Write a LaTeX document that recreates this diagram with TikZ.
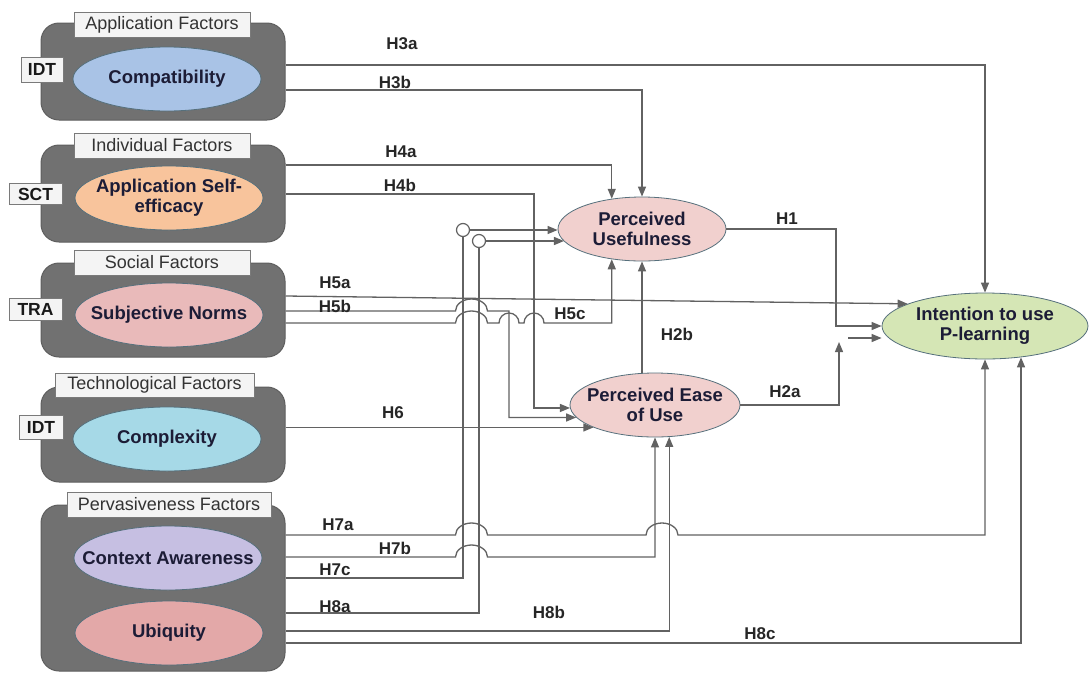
\documentclass[tikz,border=0pt]{standalone}
\usepackage{fontspec}
\setmainfont{Liberation Sans}
\usetikzlibrary{arrows.meta,shapes.geometric}

\definecolor{boxgray}{HTML}{717171}
\definecolor{grpline}{HTML}{5E5E5E}
\definecolor{ttlfill}{HTML}{F4F4F4}
\definecolor{ttlline}{HTML}{7A7A7A}
\definecolor{elline}{HTML}{56707C}
\definecolor{ink}{HTML}{1C1C36}
\definecolor{lnkgray}{HTML}{626262}
\definecolor{cmpblue}{HTML}{A9C3E6}
\definecolor{aseorange}{HTML}{F8C49C}
\definecolor{sbnpink}{HTML}{E9BABA}
\definecolor{cpxcyan}{HTML}{A6D9E7}
\definecolor{ctxlilac}{HTML}{C6BFE2}
\definecolor{ubqrose}{HTML}{E3A8A8}
\definecolor{perpink}{HTML}{F1D0CE}
\definecolor{itugreen}{HTML}{D5E6B5}

\begin{document}
\begin{tikzpicture}[x=1pt,y=-1pt,
  grp/.style={draw=grpline, fill=boxgray, rounded corners=18pt, line width=1pt, inner sep=0pt},
  ttl/.style={draw=ttlline, fill=ttlfill, inner sep=0pt, text=black!80, font=\fontsize{18}{20}\selectfont},
  thy/.style={draw=ttlline, fill=ttlfill, inner sep=0pt, text=black!90, font=\bfseries\fontsize{17.5}{20}\selectfont},
  fac/.style={ellipse, draw=elline, line width=0.8pt, minimum height=64pt, inner xsep=-25pt, inner ysep=0pt, align=center, text=ink, font=\bfseries\fontsize{18.5}{20}\selectfont},
  hyp/.style={text=black!85, font=\bfseries\fontsize{17}{19}\selectfont},
  lnk/.style={draw=lnkgray, line width=1.3pt},
  arr/.style={lnk, -{Triangle[length=10pt,width=8pt]}},
  dot/.style={circle, draw=lnkgray, fill=white, line width=1.2pt, minimum size=13pt, inner sep=0pt},
  bighop/.style={insert path={arc[start angle=180, end angle=0, x radius=16pt, y radius=12pt]}},
  smallhop/.style={insert path={arc[start angle=180, end angle=0, x radius=10pt, y radius=10pt]}},
]
\fill[white] (0,0) rectangle (1089,675);
\useasboundingbox (0,0) rectangle (1089,675);
% factor groups
\node[grp, minimum width=244pt, minimum height=97pt] (appbox) at (163,71.5) {};
\node[grp, minimum width=244pt, minimum height=97pt] (indbox) at (163,193.5) {};
\node[grp, minimum width=244pt, minimum height=94pt] (socbox) at (163,310) {};
\node[grp, minimum width=244pt, minimum height=95pt] (tecbox) at (163,434.5) {};
\node[grp, minimum width=244pt, minimum height=166pt] (pvbox) at (163,588) {};
% group titles
\node[ttl, minimum width=176pt, minimum height=25pt] (appttl) at (162,24.5) {Application Factors};
\node[ttl, minimum width=176pt, minimum height=25pt] (indttl) at (162,145.5) {Individual Factors};
\node[ttl, minimum width=176pt, minimum height=25pt] (socttl) at (162,262.5) {Social Factors};
\node[ttl, minimum width=199pt, minimum height=24pt] (tecttl) at (154.5,385) {Technological Factors};
\node[ttl, minimum width=204pt, minimum height=25pt] (pvttl) at (169,504.5) {Pervasiveness Factors};
% theories
\node[thy, minimum width=42pt, minimum height=25pt] (idt1) at (42,69.5) {IDT};
\node[thy, minimum width=53pt, minimum height=21pt] (sct) at (35.5,194) {SCT};
\node[thy, minimum width=53pt, minimum height=22pt] (tra) at (35.5,309) {TRA};
\node[thy, minimum width=44pt, minimum height=24pt] (idt2) at (41,427) {IDT};
% factors
\node[fac, fill=cmpblue, minimum width=188pt] (cmp) at (167,79) {Compatibility};
\node[fac, fill=aseorange, minimum width=188pt] (ase) at (169,198) {Application Self-\\efficacy};
\node[fac, fill=sbnpink, minimum width=188pt] (sbn) at (169,315) {Subjective Norms};
\node[fac, fill=cpxcyan, minimum width=188pt] (cpx) at (167,439) {Complexity};
\node[fac, fill=ctxlilac, minimum width=188pt] (ctx) at (168,558) {Context Awareness};
\node[fac, fill=ubqrose, minimum width=188pt] (ubq) at (169,633) {Ubiquity};
% constructs
\node[fac, fill=perpink, minimum width=168pt] (pu) at (642,229) {Perceived\\Usefulness};
\node[fac, fill=perpink, minimum width=170pt] (peu) at (655,405) {Perceived Ease\\of Use};
\node[fac, fill=itugreen, minimum width=206pt, minimum height=66pt] (itu) at (985,326) {Intention to use\\P-learning};
% junction circles
\node[dot] (c1) at (463,230) {};
\node[dot] (c2) at (479,241) {};
\coordinate (h2aup) at (839,342);
\coordinate (h2ain) at (848,338);
% application links
\draw[arr] (appbox.east |- 0,65) -| (itu.north);
\draw[arr] (appbox.east |- 0,90) -| (pu.north);
% individual links
\draw[arr] (indbox.east |- 0,165) -| (pu.135);
\draw[arr] (indbox.east |- 0,194) -- (534,194) |- (peu.182);
% social links
\draw[arr] (socbox.east |- 0,296) -- (itu.164);
\draw[arr] (socbox.east |- 0,311) -- (455.5,311) [bighop] -- (509,311) |- (peu.189);
\draw[arr] (socbox.east |- 0,323) -- (455.5,323) [bighop] -- (499,323) [smallhop] -- (524,323) [smallhop] -| (pu.225);
% technological link
\draw[arr] (tecbox.east |- peu.200) -- (peu.200);
% pervasiveness links
\draw[arr] (pvbox.east |- 0,535) -- (455.5,535) [bighop] -- (646,535) [bighop] -| (itu.south);
\draw[arr] (pvbox.east |- 0,557) -- (455.5,557) [bighop] -| (peu.south);
\draw[lnk] (pvbox.east |- 0,578) -| (c1.south);
\draw[arr] (c1.east) -- (c1.east -| pu.west);
\draw[lnk] (pvbox.east |- 0,613) -| (c2.south);
\draw[arr] (c2.east) -- (c2.east -| pu.189);
\draw[arr] (pvbox.east |- 0,631) -| (peu.-66);
\draw[arr] (pvbox.east |- 0,643) -| (itu.-41);
% mediators
\draw[arr] (pu.east) -- (836,229) |- (itu.west);
\draw[arr] (peu.east) -| (h2aup);
\draw[arr] (h2ain) -- (h2ain -| itu.west);
\draw[arr] (pu.south |- peu.north) -- (pu.south);
% hypothesis labels
\node[hyp] (h3a) at (402,44) {H3a};
\node[hyp] (h3b) at (395,82) {H3b};
\node[hyp] (h4a) at (401,152) {H4a};
\node[hyp] (h4b) at (400,185) {H4b};
\node[hyp] (h5a) at (335,283) {H5a};
\node[hyp] (h5b) at (335,306) {H5b};
\node[hyp] (h5c) at (570,314) {H5c};
\node[hyp] (h6) at (393,413) {H6};
\node[hyp] (h7a) at (338,525) {H7a};
\node[hyp] (h7b) at (395,548) {H7b};
\node[hyp] (h7c) at (335,570) {H7c};
\node[hyp] (h8a) at (335,607) {H8a};
\node[hyp] (h8b) at (549,612) {H8b};
\node[hyp] (h8c) at (760,634) {H8c};
\node[hyp] (h1) at (787,219) {H1};
\node[hyp] (h2a) at (785,392) {H2a};
\node[hyp] (h2b) at (677,334) {H2b};
\end{tikzpicture}
\end{document}
